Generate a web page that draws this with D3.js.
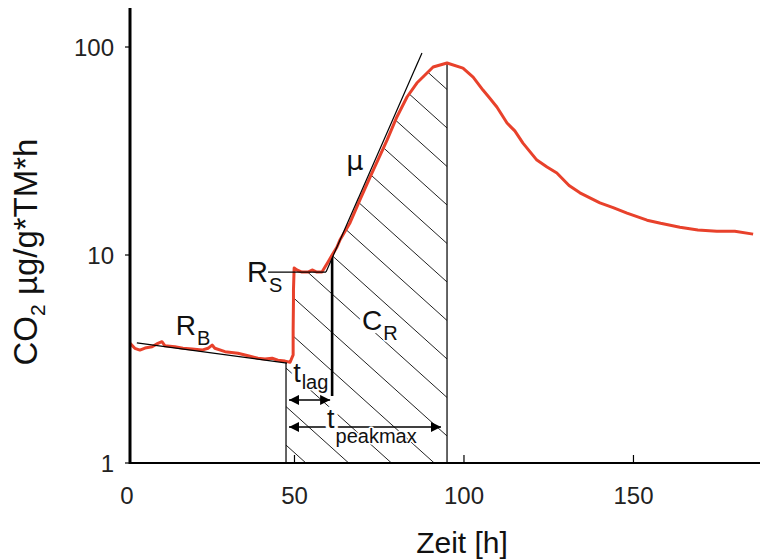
<!DOCTYPE html>
<html><head><meta charset="utf-8">
<script src="https://cdn.jsdelivr.net/npm/d3@7"></script>
<style>
body{margin:0;background:#fff}
svg{display:block}
text{font-family:Arial,"Liberation Sans",sans-serif;fill:#111}
</style>
</head><body>
<svg id="chart" width="760" height="560"></svg>
<script>
// ---- data ----
const hours = [1.5,2.9,4.4,5.9,8.0,9.7,10.9,11.8,14.7,17.1,19.8,22.7,24.5,25.7,26.5,29.5,33.3,36.3,39.2,41.3,43.4,45.1,47.2,48.7,
  49.6,49.6,49.7,49.7,49.9,50.7,52.2,54.0,55.2,56.6,58.1,59.0,59.9,61.1,62.5,63.4,66.4,69.3,72.3,74.6,77.3,80.2,83.2,86.1,90.9,95.0,
  99.7,102.7,105.6,107.5,109.7,112.7,115.0,117.4,121.5,124.5,127.4,131.0,134.2,140.1,144.0,148.1,154.0,158.0,163.7,169.0,174.6,179.9,185.3];
const co2 = [3.76,3.56,3.49,3.57,3.62,3.76,3.83,3.66,3.62,3.56,3.53,3.49,3.56,3.69,3.56,3.43,3.37,3.28,3.19,3.16,3.19,3.12,3.09,3.05,
  3.31,4.36,6.08,6.79,8.66,8.47,8.28,8.28,8.47,8.28,8.28,8.76,9.26,10.0,10.9,11.8,14.3,18.4,23.7,28.6,35.7,46.1,57.5,67.1,80.1,83.8,
  79.2,71.7,62.1,57.0,51.5,43.1,39.5,34.5,28.6,26.5,24.8,21.6,19.9,17.8,16.9,15.9,14.7,14.2,13.6,13.2,13.0,13.0,12.6];
const xTickValues = [0, 50, 100, 150];
const yTickValues = [1, 10, 100];
const rbLineH = [3.5, 47.8],  rbLineV = [3.78, 3.02];   // R_B baseline fit
const rsLineH = [42.2, 59.3], rsLineV = [8.28, 8.28];   // R_S level
const muLineH = [59.3, 87.6], muLineV = [8.28, 93.6];   // exponential tangent
const lagStartH = 47.5, lagEndH = 61.1, peakH = 95.0;
const lagEndTopV = 10.0, lagEndBottomV = 2.10;

// ---- scales ----
const svg = d3.select("#chart");
const x = d3.scaleLinear().domain([0, 186]).range([125, 755.5]);
const y = d3.scaleLog().domain([1, 154]).range([463, 8]);
const axisX = 130;

// ---- hatch area ----
const defs = svg.append("defs");
const areaPts = [[x(lagStartH), y(1)], [x(lagStartH), y(3.08)]];
hours.forEach((h, i) => { if (h >= 48.7 && h <= peakH) areaPts.push([x(h), y(co2[i])]); });
areaPts.push([x(peakH), y(1)]);
defs.append("clipPath").attr("id", "hatchClip")
  .append("path").attr("d", "M" + areaPts.map(p => p.join(",")).join("L") + "Z");

const hatchG = svg.append("g").attr("clip-path", "url(#hatchClip)");
const slope = 0.9, gap = 38.5, ax0 = x(peakH), ay0 = 128;
d3.range(-14, 14).forEach(k => {
  const xa = 250, xb = 480;
  hatchG.append("line")
    .attr("x1", xa).attr("y1", ay0 + gap * k + slope * (xa - ax0))
    .attr("x2", xb).attr("y2", ay0 + gap * k + slope * (xb - ax0))
    .attr("stroke", "#222").attr("stroke-width", 1);
});

// ---- arrow markers ----
defs.append("marker").attr("id", "arr").attr("viewBox", "0 0 10 10")
  .attr("refX", 10).attr("refY", 5).attr("markerWidth", 12).attr("markerHeight", 10)
  .attr("markerUnits", "userSpaceOnUse").attr("orient", "auto-start-reverse")
  .append("path").attr("d", "M0,0L10,5L0,10Z").attr("fill", "#000");

svg.append("line")
  .attr("x1", x(lagStartH) + 3).attr("x2", x(lagEndH) - 2)
  .attr("y1", y(2.01)).attr("y2", y(2.01))
  .attr("stroke", "#000").attr("stroke-width", 1.5)
  .attr("marker-start", "url(#arr)").attr("marker-end", "url(#arr)");
svg.append("line")
  .attr("x1", x(lagStartH) + 3).attr("x2", x(peakH) - 6)
  .attr("y1", y(1.49)).attr("y2", y(1.49))
  .attr("stroke", "#000").attr("stroke-width", 1.5)
  .attr("marker-start", "url(#arr)").attr("marker-end", "url(#arr)");

// ---- labels ----
function label(h, v, main, sub, size, subSize, subDy, halo) {
  const t = svg.append("text").attr("x", x(h)).attr("y", y(v))
    .style("font-size", size + "px");
  const a = t.append("tspan").text(main);
  const b = t.append("tspan").attr("dy", subDy).attr("dx", 1).style("font-size", subSize + "px").text(sub);
  if (halo) {
    [a, b].forEach((s, i) => s.attr("stroke", "#fff").attr("stroke-width", i === 0 ? 7 : 3)
      .attr("paint-order", "stroke").attr("stroke-linejoin", "round"));
  }
}
label(15.0, 4.12, "R", "B", 28, 20, 10, false);
label(36.0, 7.42, "R", "S", 29, 20, 10, false);
label(69.9, 4.36, "C", "R", 28, 20, 10, true);
label(49.6, 2.45, "t", "lag", 27, 20, 7, true);
label(59.6, 1.47, "t", "peakmax", 27, 20, 15, true);
svg.append("text").attr("x", x(65.3)).attr("y", y(25.6))
  .style("font-family", "'DejaVu Sans',sans-serif").style("font-size", "27px")
  .text("μ");

// ---- vertical guide lines ----
svg.append("line").attr("x1", x(lagStartH)).attr("x2", x(lagStartH))
  .attr("y1", y(3.08)).attr("y2", y(1)).attr("stroke", "#111").attr("stroke-width", 1.3);
svg.append("line").attr("x1", x(peakH)).attr("x2", x(peakH))
  .attr("y1", y(83.8)).attr("y2", y(1)).attr("stroke", "#111").attr("stroke-width", 1.3);
svg.append("line").attr("x1", x(lagEndH)).attr("x2", x(lagEndH))
  .attr("y1", y(lagEndTopV)).attr("y2", y(lagEndBottomV)).attr("stroke", "#000").attr("stroke-width", 2.6);

// ---- red measured curve ----
const line = d3.line().x(d => x(d[0])).y(d => y(d[1]));
svg.append("path").datum(hours.map((h, i) => [h, co2[i]]))
  .attr("d", line).attr("fill", "none").attr("stroke", "#e8412b")
  .attr("stroke-width", 3).attr("stroke-linejoin", "round");

// ---- fitted thin lines ----
[[rbLineH, rbLineV], [rsLineH, rsLineV], [muLineH, muLineV]].forEach(([hs, vs]) => {
  svg.append("path").datum(hs.map((h, i) => [h, vs[i]]))
    .attr("d", line).attr("fill", "none").attr("stroke", "#000").attr("stroke-width", 1.2);
});

// ---- axes ----
svg.append("line").attr("x1", axisX).attr("x2", 760).attr("y1", y(1)).attr("y2", y(1))
  .attr("stroke", "#000").attr("stroke-width", 2);
svg.append("line").attr("x1", axisX).attr("x2", axisX).attr("y1", 8).attr("y2", y(1) + 1)
  .attr("stroke", "#000").attr("stroke-width", 3);
yTickValues.forEach(v => {
  svg.append("line").attr("x1", axisX - 5).attr("x2", axisX).attr("y1", y(v)).attr("y2", y(v))
    .attr("stroke", "#000").attr("stroke-width", 1.2);
  svg.append("text").attr("x", 114).attr("y", y(v)).attr("dy", "0.36em")
    .attr("text-anchor", "end").style("font-size", "24px").style("fill", "#222").text(v);
});
xTickValues.forEach(v => {
  if (v > 0) svg.append("line").attr("x1", x(v)).attr("x2", x(v)).attr("y1", y(1) - 8).attr("y2", y(1))
    .attr("stroke", "#000").attr("stroke-width", 1.2);
  svg.append("text").attr("x", x(v) + (v === 0 ? 2 : 0)).attr("y", 504)
    .attr("text-anchor", "middle").style("font-size", "24px").style("fill", "#222").text(v);
});
svg.append("text").attr("x", 462).attr("y", 553).attr("text-anchor", "middle")
  .style("font-size", "30px").text("Zeit [h]");
const yl = svg.append("text").attr("transform", "translate(37,252) rotate(-90)")
  .attr("text-anchor", "middle").style("font-size", "33px");
yl.append("tspan").text("CO");
yl.append("tspan").attr("dy", 8).style("font-size", "21px").text("2");
yl.append("tspan").attr("dy", -8).text(" µg/g*TM*h");
</script>
</body></html>
